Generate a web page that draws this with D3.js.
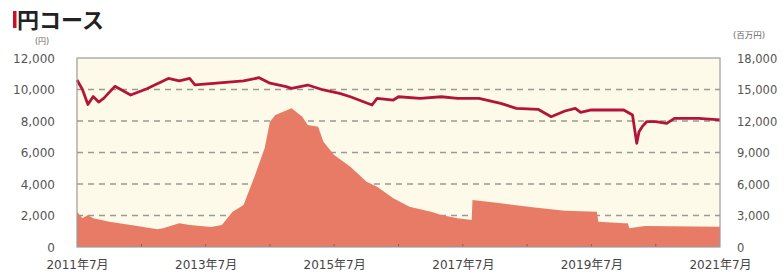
<!DOCTYPE html>
<html>
<head>
<meta charset="utf-8">
<script src="https://cdn.jsdelivr.net/npm/d3@7"></script>
<style>
    body { margin: 0; background: #fff; }
    svg text { font-family: "DejaVu Sans", "Noto Sans CJK JP", sans-serif; }
</style>
</head>
<body>
<div id="chart"></div>
<script>

// 基準価額 (円, left axis)
var navDates = ["2011-07-01", "2011-08-01", "2011-09-01", "2011-10-01", "2011-11-01", "2011-12-01",
    "2012-02-01", "2012-05-01", "2012-08-01", "2012-12-01", "2013-02-01", "2013-04-01", "2013-05-01",
    "2013-09-01", "2014-02-01", "2014-05-01", "2014-07-01", "2014-10-01", "2014-11-01", "2015-02-01",
    "2015-05-01", "2015-08-01", "2015-10-01", "2016-02-01", "2016-03-01", "2016-06-01", "2016-07-01",
    "2016-11-01", "2017-03-01", "2017-06-01", "2017-10-01", "2018-02-01", "2018-05-01", "2018-09-01",
    "2018-11-15", "2019-02-01", "2019-04-01", "2019-05-01", "2019-07-01", "2020-01-01", "2020-02-20",
    "2020-03-15", "2020-03-28", "2020-04-15", "2020-05-10", "2020-07-01", "2020-09-01", "2020-10-15",
    "2021-03-01", "2021-07-01"];
var navValues = [10600, 10000, 9050, 9550, 9200, 9450,
    10200, 9650, 10050, 10700, 10550, 10700, 10300,
    10400, 10550, 10750, 10400, 10180, 10075, 10285,
    9970, 9755, 9540, 9015, 9440, 9330, 9540,
    9440, 9540, 9440, 9440, 9120, 8805, 8740,
    8275, 8635, 8805, 8550, 8700, 8700, 8380,
    6585, 7320, 7640, 7955, 7955, 7850, 8170,
    8170, 8065];

// 純資産総額 (百万円, right axis)
var assetDates = ["2011-07-01", "2011-08-01", "2011-09-01", "2011-10-01", "2012-01-01", "2012-05-01",
    "2012-10-01", "2012-11-01", "2013-02-01", "2013-04-01", "2013-08-01", "2013-10-01", "2013-12-01",
    "2014-02-01", "2014-04-01", "2014-06-01", "2014-07-01", "2014-08-01", "2014-11-01", "2015-01-01",
    "2015-02-01", "2015-04-01", "2015-05-01", "2015-07-01", "2015-10-01", "2016-01-01", "2016-03-01",
    "2016-06-01", "2016-09-01", "2017-01-01", "2017-03-01", "2017-06-01", "2017-08-10", "2017-08-20",
    "2017-08-25", "2018-02-01", "2018-08-01", "2019-02-01", "2019-08-01", "2019-08-10", "2020-01-01",
    "2020-01-25", "2020-02-01", "2020-05-01", "2021-07-01"];
var assetValues = [3360, 2730, 3050, 2730, 2410, 2095,
    1685, 1780, 2255, 2095, 1900, 2095, 3360,
    4000, 6540, 9400, 11930, 12570, 13210, 12410,
    11620, 11460, 10030, 8760, 7650, 6220, 5745,
    4640, 3840, 3360, 3050, 2730, 2600, 2570,
    4475, 4160, 3780, 3460, 3360, 2410, 2255,
    2255, 1780, 2000, 1935];

var leftTicks = [0, 2000, 4000, 6000, 8000, 10000, 12000];
var rightTicks = [0, 3000, 6000, 9000, 12000, 15000, 18000];
var xTickDates = ["2011-07-01", "2013-07-01", "2015-07-01", "2017-07-01", "2019-07-01", "2021-07-01"];
var yearTickDates = ["2012-07-01", "2013-07-01", "2014-07-01", "2015-07-01", "2016-07-01",
    "2017-07-01", "2018-07-01", "2019-07-01", "2020-07-01"];

var parse = d3.timeParse("%Y-%m-%d");
var fmt = d3.timeFormat("%Y年%-m月");

var svg = d3.select("#chart").append("svg")
    .attr("width", 784)
    .attr("height", 277);

var plot = {left: 77, right: 720, top: 58, bottom: 247};

var x = d3.scaleTime()
    .domain([parse("2011-07-01"), parse("2021-07-01")])
    .range([plot.left, plot.right]);
var yLeft = d3.scaleLinear().domain([0, 12000]).range([plot.bottom, plot.top]);
var yRight = d3.scaleLinear().domain([0, 18000]).range([plot.bottom, plot.top]);

// title
svg.append("rect").attr("x", 13).attr("y", 11).attr("width", 3.5).attr("height", 17).attr("fill", "#c8102e");
svg.append("text").attr("x", 17).attr("y", 28)
    .style("font-family", "'Noto Sans CJK JP', sans-serif")
    .style("font-weight", "bold").style("font-size", "22px")
    .attr("fill", "#222").text("円コース");

// background
svg.append("rect")
    .attr("x", plot.left).attr("y", plot.top)
    .attr("width", plot.right - plot.left).attr("height", plot.bottom - plot.top)
    .attr("fill", "#fdfaea");

// gridlines (behind area)
svg.append("g").selectAll("line")
    .data(leftTicks.slice(1, -1))
    .enter().append("line")
    .attr("x1", plot.left).attr("x2", plot.right)
    .attr("y1", yLeft).attr("y2", yLeft)
    .attr("stroke", "#9a9a92").attr("stroke-width", 1.3)
    .attr("stroke-dasharray", "6,5");

var assets = assetDates.map(function (d, i) { return {date: parse(d), value: assetValues[i]}; });
var nav = navDates.map(function (d, i) { return {date: parse(d), value: navValues[i]}; });

svg.append("path")
    .datum(assets)
    .attr("fill", "#e77b66")
    .attr("d", d3.area()
        .x(function (d) { return x(d.date); })
        .y0(plot.bottom)
        .y1(function (d) { return yRight(d.value); }));

svg.append("path")
    .datum(nav)
    .attr("fill", "none")
    .attr("stroke", "#b3143a")
    .attr("stroke-width", 2.8)
    .attr("stroke-linejoin", "round")
    .attr("d", d3.line()
        .x(function (d) { return x(d.date); })
        .y(function (d) { return yLeft(d.value); }));

// yearly ticks on bottom edge
svg.append("g").selectAll("line")
    .data(yearTickDates.map(parse))
    .enter().append("line")
    .attr("x1", x).attr("x2", x)
    .attr("y1", plot.bottom).attr("y2", plot.bottom - 3)
    .attr("stroke", "#a0554a").attr("stroke-width", 1);

// border
svg.append("rect")
    .attr("x", plot.left).attr("y", plot.top)
    .attr("width", plot.right - plot.left).attr("height", plot.bottom - plot.top)
    .attr("fill", "none").attr("stroke", "#9c9c9c").attr("stroke-width", 1.2);

// left axis
var leftAxis = svg.append("g")
    .attr("transform", "translate(" + (plot.left - 19) + ",0)")
    .call(d3.axisLeft(yLeft).tickValues(leftTicks).tickSize(0).tickFormat(d3.format(",")));
leftAxis.select(".domain").remove();
leftAxis.selectAll("text").attr("fill", "#555").style("font-size", "12px").attr("dy", "0.35em");

var rightAxis = svg.append("g")
    .attr("transform", "translate(" + (plot.right + 17) + ",0)")
    .call(d3.axisRight(yRight).tickValues(rightTicks).tickSize(0).tickFormat(d3.format(",")));
rightAxis.select(".domain").remove();
rightAxis.selectAll("text").attr("fill", "#555").style("font-size", "11.5px").attr("dy", "0.35em").attr("x", 0);

var bottomAxis = svg.append("g")
    .attr("transform", "translate(0," + (plot.bottom + 18) + ")")
    .call(d3.axisBottom(x).tickValues(xTickDates.map(parse)).tickSize(0).tickFormat(fmt));
bottomAxis.select(".domain").remove();
bottomAxis.selectAll("text").attr("fill", "#444").style("font-size", "12px").attr("y", 0).attr("dy", "0.35em");

// units
svg.append("text").attr("x", 42).attr("y", 44).attr("text-anchor", "middle")
    .attr("fill", "#666").style("font-size", "8px").text("(円)");
svg.append("text").attr("x", 733).attr("y", 38)
    .attr("fill", "#666").style("font-size", "8.5px").text("(百万円)");

</script>
</body>
</html>
